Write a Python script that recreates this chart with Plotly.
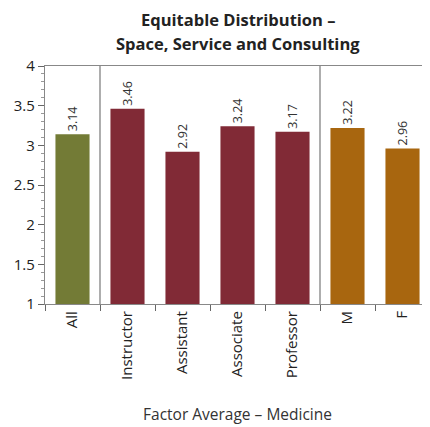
import plotly.graph_objects as go

categories = ["All", "Instructor", "Assistant", "Associate", "Professor", "M", "F"]
values = [3.14, 3.46, 2.92, 3.24, 3.17, 3.22, 2.96]
groups = ["all", "rank", "rank", "rank", "rank", "gender", "gender"]
group_colors = {"all": "#737b36", "rank": "#812a36", "gender": "#a8660f"}
title_lines = ["Equitable Distribution –", "Space, Service and Consulting"]
x_title = "Factor Average – Medicine"

FONT = "Open Sans"
colors = [group_colors[g] for g in groups]

fig = go.Figure()
fig.add_trace(go.Bar(
    x=categories, y=values,
    marker=dict(color=colors, line=dict(width=0)),
    width=0.62,
    text=[f"{v:.2f}" for v in values],
    textposition="outside",
    textangle=-90,
    textfont=dict(family=FONT, size=12.5, color="#333333"),
    cliponaxis=False,
))

# group separators between category groups
boundaries = [i - 0.5 for i in range(1, len(groups)) if groups[i] != groups[i - 1]]
for b in boundaries:
    fig.add_shape(type="line", xref="x", yref="paper", x0=b, x1=b, y0=0, y1=1,
                  line=dict(color="#777777", width=1.2))

# two-line title as annotations (page body has an 8px offset)
for i, line in enumerate(title_lines):
    fig.add_annotation(text=f"<b>{line}</b>", xref="paper", yref="paper",
                       x=0.5, xanchor="center", y=1, yanchor="middle",
                       yshift=47 - 24 * i, showarrow=False, borderpad=0,
                       font=dict(family=FONT, size=16.5, color="#222222"))

fig.update_layout(
    width=422, height=419,
    margin=dict(l=37, r=0, t=58, b=123, autoexpand=False),
    paper_bgcolor="white", plot_bgcolor="white",
    showlegend=False,
    font=dict(family=FONT, color="#222222"),
)
fig.update_xaxes(
    range=[-0.5, len(categories) - 0.5],
    showline=True, linecolor="#888888", linewidth=1.2, mirror=True,
    ticks="outside", tickson="boundaries", ticklen=6, tickcolor="#666666",
    tickangle=-90, tickfont=dict(family=FONT, size=15, color="#222222"),
    title=dict(text=x_title, font=dict(family=FONT, size=15.5, color="#333333"),
               standoff=30),
    showgrid=False, automargin=False,
)
fig.update_yaxes(
    range=[1, 4], dtick=0.5, tick0=1,
    showline=True, linecolor="#888888", linewidth=1.2, mirror=True,
    ticks="outside", ticklen=6, tickcolor="#666666",
    tickfont=dict(family=FONT, size=15, color="#222222"),
    minor=dict(dtick=0.1, ticks="outside", ticklen=3, tickcolor="#999999", showgrid=False),
    showgrid=False, zeroline=False, automargin=False,
)

fig.write_html("out.html")
